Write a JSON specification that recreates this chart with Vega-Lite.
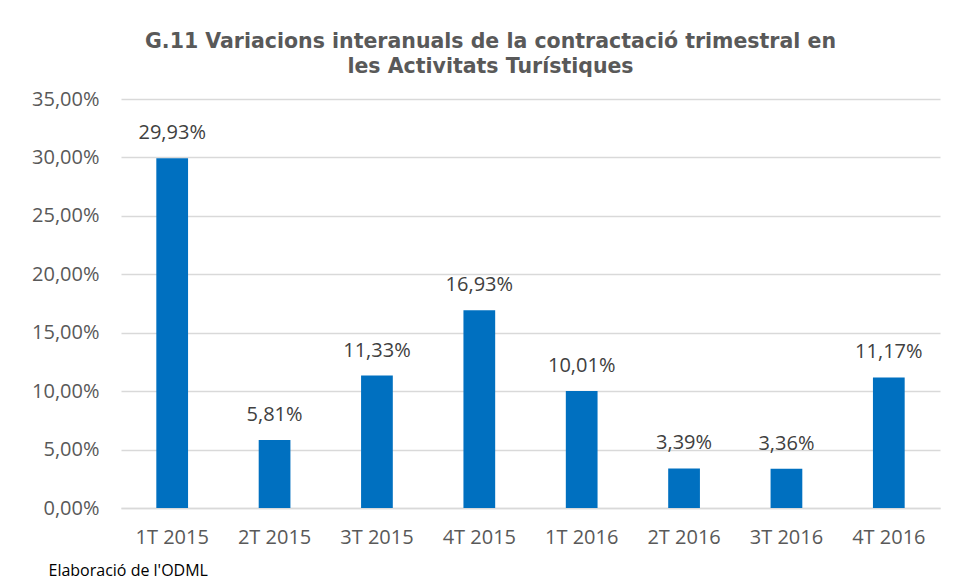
{
  "$schema": "https://vega.github.io/schema/vega-lite/v6.json",
  "autosize": "none",
  "width": 819,
  "height": 409,
  "padding": {"left": 121, "top": 99, "right": 18, "bottom": 72},
  "background": "white",
  "title": {
    "text": ["G.11 Variacions interanuals de la contractació trimestral en", "les Activitats Turístiques"],
    "font": "DejaVu Sans",
    "fontWeight": "bold",
    "fontSize": 20.5,
    "color": "#595959",
    "anchor": "middle",
    "dx": -40,
    "offset": 12,
    "lineHeight": 25
  },
  "data": {
    "values": [
      {"trimestre": "1T 2015", "valor": 0.2993},
      {"trimestre": "2T 2015", "valor": 0.0581},
      {"trimestre": "3T 2015", "valor": 0.1133},
      {"trimestre": "4T 2015", "valor": 0.1693},
      {"trimestre": "1T 2016", "valor": 0.1001},
      {"trimestre": "2T 2016", "valor": 0.0339},
      {"trimestre": "3T 2016", "valor": 0.0336},
      {"trimestre": "4T 2016", "valor": 0.1117}
    ]
  },
  "encoding": {
    "x": {
      "field": "trimestre",
      "type": "nominal",
      "sort": null,
      "scale": {"paddingInner": 0.69, "paddingOuter": 0.345},
      "axis": {
        "title": "Elaboració de l'ODML",
        "titleFont": "Open Sans",
        "titleFontSize": 16,
        "titleFontWeight": "normal",
        "titleColor": "#000000",
        "titleAnchor": "start",
        "titleAlign": "left",
        "titleBaseline": "middle",
        "titleX": -73,
        "titleY": 62,
        "labelAngle": 0,
        "labelFont": "Open Sans",
        "labelFontSize": 20,
        "labelColor": "#595959",
        "labelPadding": 19,
        "ticks": false,
        "domainColor": "#d9d9d9",
        "domainWidth": 1.5
      }
    },
    "y": {
      "field": "valor",
      "type": "quantitative",
      "scale": {"domain": [0, 0.35]},
      "axis": {
        "title": null,
        "values": [0, 0.05, 0.1, 0.15, 0.2, 0.25, 0.3, 0.35],
        "format": ".2%",
        "labelFont": "Open Sans",
        "labelFontSize": 20,
        "labelColor": "#595959",
        "labelPadding": 22,
        "ticks": false,
        "domain": false,
        "gridColor": "#d9d9d9",
        "gridWidth": 1.5
      }
    }
  },
  "layer": [
    {"mark": {"type": "bar", "color": "#0070C0"}},
    {
      "mark": {"type": "text", "font": "Open Sans", "fontSize": 20, "color": "#404040", "baseline": "middle", "dy": -25},
      "encoding": {"text": {"field": "valor", "type": "quantitative", "format": ".2%"}}
    }
  ],
  "config": {
    "locale": {"number": {"decimal": ",", "thousands": ".", "grouping": [3], "currency": ["", " €"]}},
    "view": {"stroke": null}
  }
}
